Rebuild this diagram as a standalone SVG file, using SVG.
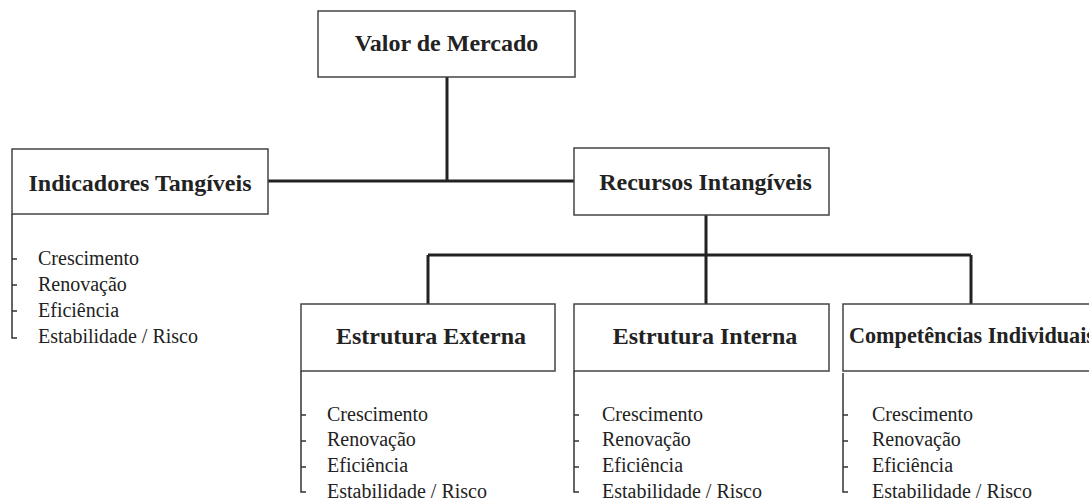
<svg xmlns="http://www.w3.org/2000/svg" width="1089" height="503" viewBox="0 0 1089 503">
<style>
.box{fill:#fff;stroke:#444;stroke-width:1.5}
.title{font-family:'Liberation Serif',Tinos,'Times New Roman','DejaVu Serif',serif;font-weight:bold;font-size:24px;fill:#222}
.item{font-family:'Liberation Serif',Tinos,'Times New Roman','DejaVu Serif',serif;font-size:20px;fill:#222}
.conn{fill:none;stroke:#222;stroke-width:3}
.br{fill:none;stroke:#333;stroke-width:1.5}
</style>
<rect width="1089" height="503" fill="#fff"/>
<g id="connectors">
<path class="conn" d="M447 77 V181 M268 181 H574"/>
<path class="conn" d="M706 215 V255 M428 255 H971 M428 255 V304 M706 255 V304 M971 255 V304"/>
</g>
<g id="valor">
<rect class="box" x="318" y="11" width="257" height="66"/>
<text class="title" x="446.5" y="51" text-anchor="middle">Valor de Mercado</text>
</g>
<g id="tangiveis">
<rect class="box" x="12" y="149" width="256" height="65"/>
<text class="title" x="140" y="191" text-anchor="middle">Indicadores Tangíveis</text>
<path class="br" d="M12 214 V338 H17 M12 259 H17 M12 285 H17 M12 311 H17"/>
<text class="item" x="38" y="265">Crescimento</text>
<text class="item" x="38" y="291">Renovação</text>
<text class="item" x="38" y="317">Eficiência</text>
<text class="item" x="38" y="343">Estabilidade / Risco</text>
</g>
<g id="intangiveis">
<rect class="box" x="574" y="148" width="255" height="67"/>
<text class="title" x="705.5" y="190" text-anchor="middle">Recursos Intangíveis</text>
</g>
<g id="externa">
<rect class="box" x="301" y="304" width="254" height="67"/>
<text class="title" x="431" y="344" text-anchor="middle">Estrutura Externa</text>
<path class="br" d="M301 371 V492 H306 M301 415 H306 M301 441 H306 M301 467 H306"/>
<text class="item" x="327" y="421">Crescimento</text>
<text class="item" x="327" y="446">Renovação</text>
<text class="item" x="327" y="472">Eficiência</text>
<text class="item" x="327" y="498">Estabilidade / Risco</text>
</g>
<g id="interna">
<rect class="box" x="574" y="304" width="255" height="67"/>
<text class="title" x="705" y="344" text-anchor="middle">Estrutura Interna</text>
<path class="br" d="M574 371 V492 H579 M574 415 H579 M574 441 H579 M574 467 H579"/>
<text class="item" x="602" y="421">Crescimento</text>
<text class="item" x="602" y="446">Renovação</text>
<text class="item" x="602" y="472">Eficiência</text>
<text class="item" x="602" y="498">Estabilidade / Risco</text>
</g>
<g id="competencias">
<rect class="box" x="843" y="304" width="260" height="67"/>
<text class="title" x="849" y="343" textLength="246" lengthAdjust="spacingAndGlyphs">Competências Individuais</text>
<path class="br" d="M843 373 V492 H848 M843 415 H848 M843 441 H848 M843 467 H848"/>
<text class="item" x="872" y="421">Crescimento</text>
<text class="item" x="872" y="446">Renovação</text>
<text class="item" x="872" y="472">Eficiência</text>
<text class="item" x="872" y="498">Estabilidade / Risco</text>
</g>
</svg>
